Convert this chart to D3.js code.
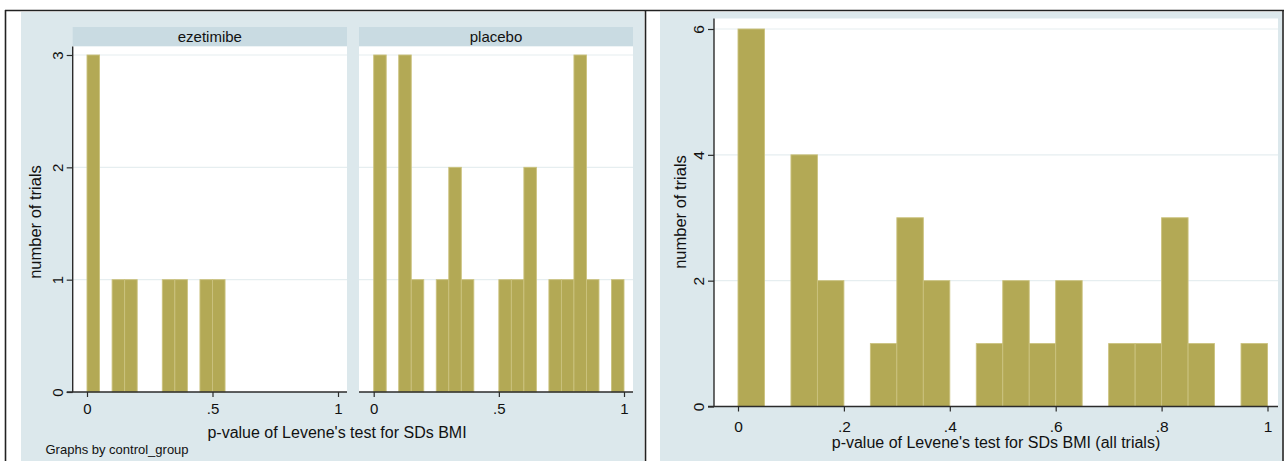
<!DOCTYPE html>
<html>
<head>
<meta charset="utf-8">
<script src="https://cdn.jsdelivr.net/npm/d3@7"></script>
<style>
  body { margin: 0; background: #fff; }
  text { font-family: "Liberation Sans", Arial, sans-serif; fill: #111; }
</style>
</head>
<body>
<svg id="chart" width="1285" height="461"></svg>
<script>
// histogram bins (lower edges, width .05)
const binStarts = [0, 0.05, 0.1, 0.15, 0.2, 0.25, 0.3, 0.35, 0.4, 0.45,
                   0.5, 0.55, 0.6, 0.65, 0.7, 0.75, 0.8, 0.85, 0.9, 0.95];
const binWidth = 0.05;

const ezetimibeCounts = [3, 0, 1, 1, 0, 0, 1, 1, 0, 1, 1, 0, 0, 0, 0, 0, 0, 0, 0, 0];
const placeboCounts   = [3, 0, 3, 1, 0, 1, 2, 1, 0, 0, 1, 1, 2, 0, 1, 1, 3, 1, 0, 1];
const allCounts       = [6, 0, 4, 2, 0, 1, 3, 2, 0, 1, 2, 1, 2, 0, 1, 1, 3, 1, 0, 1];

const panelNames = ["ezetimibe", "placebo"];
const leftXTicks = [0, 0.5, 1];
const leftYTicks = [0, 1, 2, 3];
const rightXTicks = [0, 0.2, 0.4, 0.6, 0.8, 1];
const rightYTicks = [0, 2, 4, 6];

const barFill = "#b3a955";
const barStroke = "#cbc27e";
const bgBlue = "#dce8ec";
const stripBlue = "#c9dbe2";
const gridColor = "#e6eef0";
const axisColor = "#2b2b2b";

const fmt = d => d === 0 ? "0" : d === 1 ? "1" : String(d).replace(/^0/, "");

const svg = d3.select("#chart");

// outer frames
svg.append("rect").attr("x", 21).attr("y", 12).attr("width", 623).attr("height", 449).attr("fill", bgBlue);
svg.append("rect").attr("x", 660).attr("y", 12).attr("width", 622).attr("height", 449).attr("fill", bgBlue);
const frame = svg.append("g").attr("stroke", "#222").attr("stroke-width", 1.6);
frame.append("line").attr("x1", 5).attr("x2", 1284).attr("y1", 10.5).attr("y2", 10.5);
frame.append("line").attr("x1", 5.5).attr("x2", 5.5).attr("y1", 10).attr("y2", 461);
frame.append("line").attr("x1", 645.5).attr("x2", 645.5).attr("y1", 10).attr("y2", 461);
frame.append("line").attr("x1", 1283).attr("x2", 1283).attr("y1", 10).attr("y2", 461);

function styleAxis(g) {
  g.select(".domain").attr("stroke", axisColor).attr("stroke-width", 1.4);
  g.selectAll(".tick line").attr("stroke", axisColor).attr("stroke-width", 1.2);
  g.selectAll(".tick text").attr("fill", "#111");
}

function drawHist(g, counts, x, y, plot, yTicks, xTicks, opts) {
  g.append("rect")
    .attr("x", plot.left).attr("y", plot.top)
    .attr("width", plot.right - plot.left).attr("height", plot.bottom - plot.top)
    .attr("fill", "#fff");

  // gridlines
  g.append("g").selectAll("line")
    .data(yTicks.filter(d => d > 0))
    .join("line")
    .attr("x1", plot.left).attr("x2", plot.right)
    .attr("y1", d => y(d)).attr("y2", d => y(d))
    .attr("stroke", gridColor).attr("stroke-width", 1.2);

  // bars
  g.append("g").selectAll("rect")
    .data(binStarts.map((s, i) => ({ s, c: counts[i] })).filter(d => d.c > 0))
    .join("rect")
    .attr("x", d => x(d.s))
    .attr("width", d => x(d.s + binWidth) - x(d.s))
    .attr("y", d => y(d.c))
    .attr("height", d => y(0) - y(d.c))
    .attr("fill", barFill)
    .attr("stroke", barStroke)
    .attr("stroke-width", 0.9);

  // x axis
  const xa = g.append("g")
    .attr("transform", `translate(0,${plot.bottom})`)
    .call(d3.axisBottom(x).tickValues(xTicks).tickFormat(fmt).tickSize(5).tickPadding(opts.xPad).tickSizeOuter(0))
    .call(styleAxis);
  xa.select(".domain").attr("d", `M${plot.left - (opts.yAxis ? 6 : 0)},0H${plot.right}`);
  xa.selectAll(".tick text").attr("font-size", opts.tickFont);

  if (opts.yAxis) {
    const ya = g.append("g")
      .attr("transform", `translate(${plot.left},0)`)
      .call(d3.axisLeft(y).tickValues(yTicks).tickFormat(d3.format("d")).tickSize(6).tickSizeOuter(0))
      .call(styleAxis);
    ya.select(".domain").attr("d", `M0,${plot.top}V${plot.bottom}`);
    ya.selectAll(".tick text")
      .attr("font-size", opts.tickFont)
      .attr("text-anchor", "middle")
      .attr("x", 0).attr("y", -10).attr("dy", 0)
      .attr("transform", "rotate(-90)");
  }
}

// ---------- left: by control group ----------
const leftPlots = [
  { left: 72.7, right: 347, top: 46.5, bottom: 392, x0: 87, x1: 338 },
  { left: 359, right: 633, top: 46.5, bottom: 392, x0: 373.7, x1: 624 }
];
const leftY = d3.scaleLinear().domain([0, 3]).range([392, 55]);
const leftCounts = [ezetimibeCounts, placeboCounts];

panelNames.forEach((name, i) => {
  const p = leftPlots[i];
  const g = svg.append("g");
  const x = d3.scaleLinear().domain([0, 1]).range([p.x0, p.x1]);
  g.append("rect")
    .attr("x", p.left).attr("y", 27)
    .attr("width", p.right - p.left).attr("height", 19)
    .attr("fill", stripBlue);
  g.append("text")
    .attr("x", (p.left + p.right) / 2).attr("y", 41.5)
    .attr("text-anchor", "middle").attr("font-size", 15)
    .text(name);
  drawHist(g, leftCounts[i], x, leftY, p, leftYTicks, leftXTicks,
    { yAxis: i === 0, xPad: 6, tickFont: 15 });
});

svg.append("text")
  .attr("transform", "translate(41,222) rotate(-90)")
  .attr("text-anchor", "middle").attr("font-size", 16.5)
  .text("number of trials");
svg.append("text")
  .attr("x", 337).attr("y", 438)
  .attr("text-anchor", "middle").attr("font-size", 16)
  .text("p-value of Levene's test for SDs BMI");
svg.append("text")
  .attr("x", 45.5).attr("y", 454)
  .attr("font-size", 13)
  .text("Graphs by control_group");

// ---------- right: all trials ----------
const rp = { left: 714, right: 1278, top: 18.5, bottom: 406.5 };
const rightX = d3.scaleLinear().domain([0, 1]).range([738, 1267.5]);
const rightY = d3.scaleLinear().domain([0, 6]).range([406.5, 29]);
const rg = svg.append("g");
drawHist(rg, allCounts, rightX, rightY, rp, rightYTicks, rightXTicks,
  { yAxis: true, xPad: 9, tickFont: 15.5 });

svg.append("text")
  .attr("transform", "translate(686,212) rotate(-90)")
  .attr("text-anchor", "middle").attr("font-size", 16.5)
  .text("number of trials");
svg.append("text")
  .attr("x", 996).attr("y", 448)
  .attr("text-anchor", "middle").attr("font-size", 16)
  .text("p-value of Levene's test for SDs BMI (all trials)");
</script>
</body>
</html>
